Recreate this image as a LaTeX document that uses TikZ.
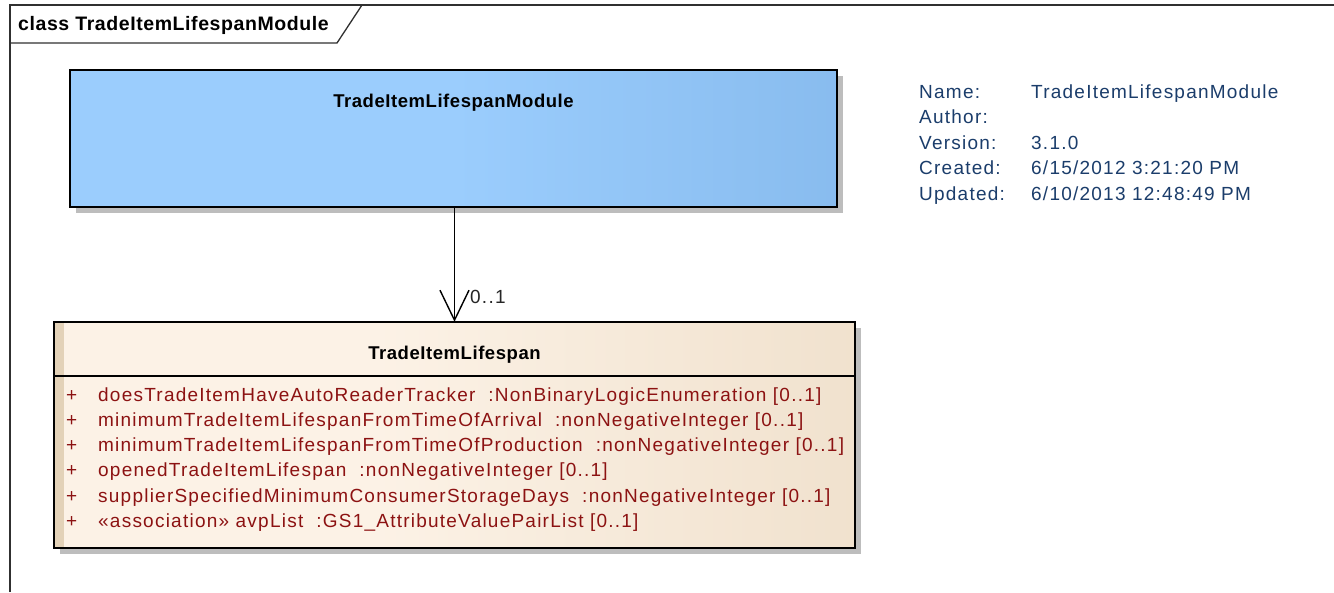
\documentclass[tikz,border=0pt]{standalone}
\usepackage{fontspec}
\setmainfont{Liberation Sans}
\newfontfamily\eareg[LetterSpace=6.5]{Liberation Sans}
\newfontfamily\eab[LetterSpace=3]{Liberation Sans}
\usetikzlibrary{arrows.meta,shadows,calc}
\definecolor{blueA}{HTML}{9BCDFD}
\definecolor{blueB}{HTML}{76ABE0}
\definecolor{beigeA}{HTML}{FCF2E6}
\definecolor{beigeB}{HTML}{E7D4BA}
\definecolor{stripe}{HTML}{E3D2B8}
\definecolor{attrred}{RGB}{140,18,18}
\definecolor{navy}{HTML}{1B3D6B}
\definecolor{frameline}{HTML}{303030}
\definecolor{shadowgray}{HTML}{BDBDBD}
\pgfdeclarehorizontalshading{blueH}{100bp}{color(0bp)=(blueA); color(50bp)=(blueA); color(100bp)=(blueB)}
\pgfdeclarehorizontalshading{beigeH}{100bp}{color(0bp)=(beigeA); color(45bp)=(beigeA); color(100bp)=(beigeB)}
\tikzset{
  regtext/.style={font=\eareg\fontsize{19}{21}\selectfont, inner sep=0pt},
  boldtext/.style={font=\eab\bfseries\fontsize{18.5}{20}\selectfont, inner sep=0pt},
  attr/.style={regtext, text=attrred, anchor=base west},
  info/.style={regtext, text=navy, anchor=base west},
  boxshadow/.style={drop shadow={shadow xshift=6pt, shadow yshift=-6pt, fill=shadowgray, opacity=1}},
  border/.style={draw=black, line width=1.5pt},
  assoc/.style={draw=black, line width=1.4pt, -{Straight Barb[length=30pt, width=29pt, line width=1.4pt]}}
}
\begin{document}
\begin{tikzpicture}[x=1pt, y=-1pt]
\useasboundingbox (0,0) rectangle (1334,592);
\fill[white] (0,0) rectangle (1334,592);
% frame
\draw[frameline, line width=1.3pt] (10,592) -- (10,5) -- (1334,5);
\draw[frameline, line width=1.3pt] (10,43) -- (337,43) -- (362,5);
\node[boldtext, font=\eab\bfseries\fontsize{19.5}{21}\selectfont, anchor=base west] (frametitle) at (18,30) {class TradeItemLifespanModule};
% module box
\node[boxshadow, shading=blueH, border, minimum width=767pt, minimum height=137pt, inner sep=0pt] (mod) at (453.5,138.5) {};
\node[boldtext, anchor=base] (modtitle) at (453.5,107) {TradeItemLifespanModule};
% class box
\node[boxshadow, shading=beigeH, minimum width=801pt, minimum height=226pt, inner sep=0pt] (cls) at (454.5,435) {};
\fill[stripe] (cls.north west) rectangle ($(cls.south west)+(10,0)$);
\draw[border] (cls.north west) rectangle (cls.south east);
\draw[black, line width=1.4pt] (54,376) -- (855,376);
\node[boldtext, anchor=base] (clstitle) at (454.5,359) {TradeItemLifespan};
% attributes
\foreach \i/\yy/\txt in {
  1/401/{doesTradeItemHaveAutoReaderTracker \ :NonBinaryLogicEnumeration [0..1]},
  2/426/{minimumTradeItemLifespanFromTimeOfArrival \ :nonNegativeInteger [0..1]},
  3/451.5/{minimumTradeItemLifespanFromTimeOfProduction \ :nonNegativeInteger [0..1]},
  4/476.5/{openedTradeItemLifespan \ :nonNegativeInteger [0..1]},
  5/502/{supplierSpecifiedMinimumConsumerStorageDays \ :nonNegativeInteger [0..1]},
  6/527/{«association» avpList \ :GS1\_AttributeValuePairList [0..1]}} {
  \node[attr] (plus\i) at (66,\yy) {+};
  \node[attr] (attr\i) at (98,\yy) {\txt};
}
% association
\draw[assoc] (mod.south -| cls.north) -- (cls.north);
\node[regtext, text=black!85, anchor=base west] (mult) at (470,303) {0..1};
% info
\foreach \i/\yy/\k/\v in {
  1/98/{Name:}/{TradeItemLifespanModule},
  2/123.5/{Author:}/{},
  3/149/{Version:}/{3.1.0},
  4/174.5/{Created:}/{6/15/2012 3:21:20 PM},
  5/200/{Updated:}/{6/10/2013 12:48:49 PM}} {
  \node[info] (key\i) at (919,\yy) {\k};
  \node[info] (val\i) at (1031,\yy) {\v};
}
\end{tikzpicture}
\end{document}
